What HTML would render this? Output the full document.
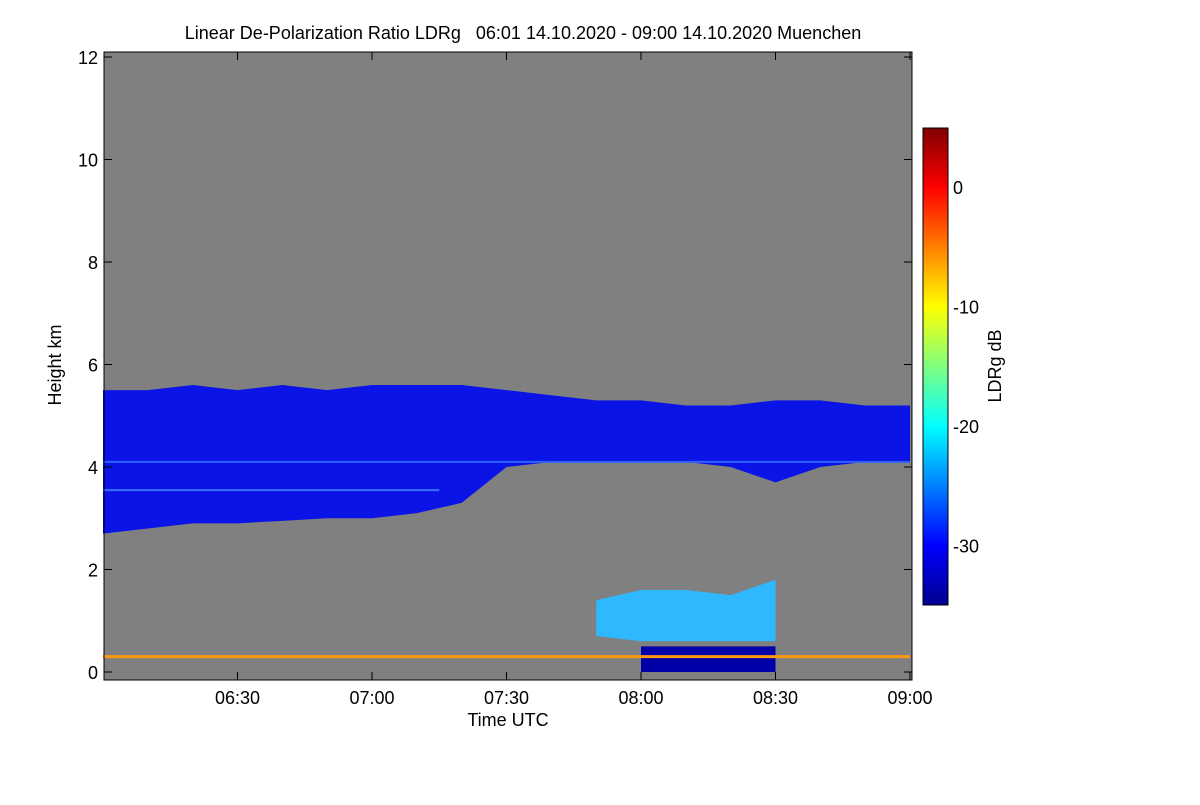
<!DOCTYPE html>
<html><head><meta charset="utf-8">
<style>
body{margin:0;background:#fff;font-family:"Liberation Sans",sans-serif;}
svg text{font-family:"Liberation Sans",sans-serif;fill:#000;}
</style></head>
<body>
<svg id="chart" width="1200" height="800" xmlns="http://www.w3.org/2000/svg">
<defs>
<linearGradient id="jet" x1="0" y1="1" x2="0" y2="0">
<stop offset="0" stop-color="#00008f"/><stop offset="0.125" stop-color="#0000ff"/>
<stop offset="0.375" stop-color="#00ffff"/><stop offset="0.625" stop-color="#ffff00"/>
<stop offset="0.875" stop-color="#ff0000"/><stop offset="1" stop-color="#800000"/>
</linearGradient>
</defs>
<text x="523" y="39" font-size="18" text-anchor="middle" style="white-space:pre">Linear De-Polarization Ratio LDRg   06:01 14.10.2020 - 09:00 14.10.2020 Muenchen</text>
<rect x="104" y="52" width="808" height="628" fill="#808080"/>
<g id="marks"></g>
<rect x="104" y="52" width="808" height="628" fill="none" stroke="#000" stroke-width="1"/>
<g id="axes"></g>
<text transform="translate(61,365) rotate(-90)" font-size="18" text-anchor="middle">Height km</text>
<text x="508" y="726" font-size="18" text-anchor="middle">Time UTC</text>
<rect x="923" y="128" width="25" height="477" fill="url(#jet)" stroke="#000"/>
<g id="cbticks"></g>
<text transform="translate(1001,366) rotate(-90)" font-size="18" text-anchor="middle">LDRg dB</text>
</svg>
<script>
const timesMin=[0,10,20,30,40,50,60,70,80,90,100,110,120,130,140,150,160,170,180];
const cloudTop=[5.5,5.5,5.6,5.5,5.6,5.5,5.6,5.6,5.6,5.5,5.4,5.3,5.3,5.2,5.2,5.3,5.3,5.2,5.2];
const cloudBase=[2.7,2.8,2.9,2.9,2.95,3.0,3.0,3.1,3.3,4.0,4.1,4.1,4.1,4.1,4.0,3.7,4.0,4.1,4.1];
const lowCloudTimes=[110,120,130,140,150];
const lowCloudTop=[1.4,1.6,1.6,1.5,1.8];
const lowCloudBase=[0.7,0.6,0.6,0.6,0.6];
const precipTimes=[120,127,133,145,150];
const precipTop=[0.5,0.5,0.5,0.5,0.5];
const yTicks=[0,2,4,6,8,10,12];
const xTickMin=[30,60,90,120,150,180];
const xTickLabels=["06:30","07:00","07:30","08:00","08:30","09:00"];
const cbTicks=[0,-10,-20,-30];
const x=t=>103+t*(807/180);
const y=h=>672-h*51.25;
const cb=v=>187-v*11.95;
const NS="http://www.w3.org/2000/svg";
const marks=document.getElementById('marks');
function poly(ts,tops,bases,fill,name){
  const p=document.createElementNS(NS,'polygon');
  let pts=ts.map((t,i)=>x(t)+','+y(tops[i]));
  pts=pts.concat(ts.map((t,i)=>x(t)+','+y(bases[i])).reverse());
  p.setAttribute('points',pts.join(' '));p.setAttribute('fill',fill);
  
  
  marks.appendChild(p);
}
function hline(h,t0,t1,col,w,name){
  const l=document.createElementNS(NS,'line');
  l.setAttribute('x1',x(t0));l.setAttribute('x2',x(t1));l.setAttribute('y1',y(h));l.setAttribute('y2',y(h));
  l.setAttribute('stroke',col);l.setAttribute('stroke-width',w);
  
  
  marks.appendChild(l);
}
poly(timesMin,cloudTop,cloudBase,'#0a14e6','cirrus-layer');
poly(lowCloudTimes,lowCloudTop,lowCloudBase,'#30b8ff','low-cloud');
poly(precipTimes,precipTop,precipTimes.map(()=>0),'#0000a8','precip-region');
hline(4.1,0,180,'#3060ff',2,'range-artifact-line');
hline(3.55,0,75,'#3a70ff',2,'range-artifact-line-2');
hline(0.3,0,180,'#ff9a10',3,'aerosol-line');
const ax=document.getElementById('axes');
function tick(x1,y1,x2,y2){
  const l=document.createElementNS(NS,'line');
  l.setAttribute('x1',x1);l.setAttribute('x2',x2);l.setAttribute('y1',y1);l.setAttribute('y2',y2);
  l.setAttribute('stroke','#000');
  
  
  ax.appendChild(l);
}
yTicks.forEach(h=>{
  const t=document.createElementNS(NS,'text');
  t.setAttribute('x',98);t.setAttribute('y',y(h)+7);t.setAttribute('font-size','18');t.setAttribute('text-anchor','end');
  t.textContent=h;
  
  
  ax.appendChild(t);
  tick(104,y(h),112,y(h));tick(904,y(h),912,y(h));
});
xTickMin.forEach((m,i)=>{
  const t=document.createElementNS(NS,'text');
  t.setAttribute('x',x(m));t.setAttribute('y',704);t.setAttribute('font-size','18');t.setAttribute('text-anchor','middle');
  t.textContent=xTickLabels[i];
  
  
  ax.appendChild(t);
  tick(x(m),680,x(m),672);tick(x(m),52,x(m),60);
});
const cg=document.getElementById('cbticks');
cbTicks.forEach(v=>{
  const t=document.createElementNS(NS,'text');
  t.setAttribute('x',953);t.setAttribute('y',cb(v)+7);t.setAttribute('font-size','18');
  t.textContent=v;
  
  
  cg.appendChild(t);
});
</script>
</body></html>
